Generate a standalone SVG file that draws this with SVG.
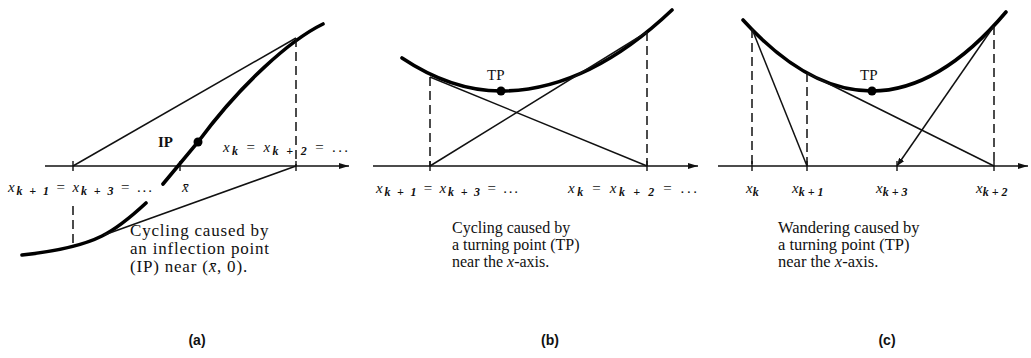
<svg xmlns="http://www.w3.org/2000/svg" width="1031" height="358" viewBox="0 0 1031 358">
<style>
.ax{stroke:#111;stroke-width:1.4;fill:none}
.thin{stroke:#111;stroke-width:1.5;fill:none}
.thick{stroke:#000;stroke-width:3.6;fill:none;stroke-linecap:round}
.dash{stroke:#111;stroke-width:1.5;fill:none;stroke-dasharray:9 5}
.tick{stroke:#111;stroke-width:1.4}
.lab{font-family:"Liberation Serif",serif;font-size:15px;fill:#111}
.it{font-style:italic}
.sub{font-size:12px;font-style:italic;font-weight:bold}
.cap{font-family:"Liberation Serif",serif;fill:#111}
.pl{font-family:"Liberation Sans",sans-serif;font-weight:bold;font-size:14px;fill:#111}
</style>
<defs>
<marker id="arr" viewBox="0 0 10 6" refX="10" refY="3" markerWidth="10" markerHeight="6" markerUnits="userSpaceOnUse" orient="auto">
<path d="M0,0 L10,3 L0,6 Z" fill="#111"/>
</marker>
<marker id="arr2" viewBox="0 0 8 6" refX="8" refY="3" markerWidth="8" markerHeight="6" markerUnits="userSpaceOnUse" orient="auto">
<path d="M0,0 L8,3 L0,6 Z" fill="#111"/>
</marker>
</defs>

<g id="panel-a">
<line class="ax" x1="45" y1="166" x2="349" y2="166" marker-end="url(#arr)"/>
<line class="tick" x1="73" y1="161" x2="73" y2="171"/>
<line class="tick" x1="180" y1="161" x2="180" y2="171"/>
<line class="tick" x1="296" y1="161" x2="296" y2="171"/>
<path class="thick" d="M323,24 C290,40 240,85 198,142 L163,184"/>
<path class="thick" d="M146,203 C132,216 118,228 102,236 C82,246 50,252 22,255"/>
<line class="dash" x1="296" y1="38" x2="296" y2="166"/>
<line class="dash" x1="73" y1="206" x2="73" y2="246"/>
<line class="thin" x1="73" y1="166" x2="296" y2="38"/>
<line class="thin" x1="296" y1="166" x2="104" y2="235"/>
<circle cx="198" cy="142" r="4.5" fill="#000"/>
<text class="lab" x="158" y="147" font-weight="bold" font-size="16">IP</text>
<text class="lab" x="223" y="152" textLength="125"><tspan class="it">x</tspan><tspan class="sub" dy="3">k</tspan><tspan dy="-3"> = </tspan><tspan class="it">x</tspan><tspan class="sub" dy="3">k + 2</tspan><tspan dy="-3"> = ...</tspan></text>
<text class="lab" x="8" y="192" textLength="144"><tspan class="it">x</tspan><tspan class="sub" dy="3">k + 1</tspan><tspan dy="-3"> = </tspan><tspan class="it">x</tspan><tspan class="sub" dy="3">k + 3</tspan><tspan dy="-3"> = ...</tspan></text>
<text class="lab it" x="182" y="192">x̄</text>
<text class="cap" font-size="17" letter-spacing="0.8" x="130" y="236"><tspan x="130">Cycling caused by</tspan><tspan x="130" y="254">an inflection point</tspan><tspan x="130" y="272">(IP) near (<tspan class="it">x̄</tspan>, 0).</tspan></text>
<text class="pl" x="197" y="345" text-anchor="middle">(a)</text>
</g>

<g id="panel-b">
<line class="ax" x1="373" y1="166" x2="698" y2="166" marker-end="url(#arr)"/>
<line class="tick" x1="430" y1="161" x2="430" y2="171"/>
<line class="tick" x1="647" y1="161" x2="647" y2="171"/>
<path class="thick" d="M402,58 Q451.5,91 501,91 Q586.5,91 672,10"/>
<line class="dash" x1="430" y1="77" x2="430" y2="166"/>
<line class="dash" x1="647" y1="32" x2="647" y2="166"/>
<line class="thin" x1="430" y1="77" x2="647" y2="166"/>
<line class="thin" x1="647" y1="32" x2="430" y2="166"/>
<circle cx="501" cy="91" r="4.5" fill="#000"/>
<text class="lab" x="487" y="80" font-size="15">TP</text>
<text class="lab" x="376" y="193" textLength="142"><tspan class="it">x</tspan><tspan class="sub" dy="3">k + 1</tspan><tspan dy="-3"> = </tspan><tspan class="it">x</tspan><tspan class="sub" dy="3">k + 3</tspan><tspan dy="-3"> = ...</tspan></text>
<text class="lab" x="568" y="193" textLength="129"><tspan class="it">x</tspan><tspan class="sub" dy="3">k</tspan><tspan dy="-3"> = </tspan><tspan class="it">x</tspan><tspan class="sub" dy="3">k + 2</tspan><tspan dy="-3"> = ...</tspan></text>
<text class="cap" font-size="16" x="452" y="233"><tspan x="452">Cycling caused by</tspan><tspan x="452" y="250">a turning point (TP)</tspan><tspan x="452" y="267">near the <tspan class="it">x</tspan>-axis.</tspan></text>
<text class="pl" x="550" y="345" text-anchor="middle">(b)</text>
</g>

<g id="panel-c">
<line class="ax" x1="718" y1="166" x2="1028" y2="166" marker-end="url(#arr)"/>
<line class="tick" x1="752" y1="161" x2="752" y2="171"/>
<line class="tick" x1="807" y1="161" x2="807" y2="171"/>
<line class="tick" x1="897" y1="161" x2="897" y2="171"/>
<line class="tick" x1="994" y1="161" x2="994" y2="171"/>
<path class="thick" d="M743,20 Q807.5,91 872,91 Q939,91 1006,12"/>
<line class="dash" x1="752" y1="29" x2="752" y2="166"/>
<line class="dash" x1="807" y1="73" x2="807" y2="166"/>
<line class="dash" x1="994" y1="26" x2="994" y2="166"/>
<line class="thin" x1="752" y1="29" x2="807" y2="166"/>
<line class="thin" x1="807" y1="73" x2="994" y2="166"/>
<line class="thin" x1="994" y1="26" x2="897" y2="166" marker-end="url(#arr2)"/>
<circle cx="872" cy="91" r="4.5" fill="#000"/>
<text class="lab" x="860" y="80" font-size="15">TP</text>
<text class="lab" x="746" y="193"><tspan class="it">x</tspan><tspan class="sub" dy="3">k</tspan></text>
<text class="lab" x="792" y="193"><tspan class="it">x</tspan><tspan class="sub" dy="3">k + 1</tspan></text>
<text class="lab" x="876" y="193"><tspan class="it">x</tspan><tspan class="sub" dy="3">k + 3</tspan></text>
<text class="lab" x="976" y="193"><tspan class="it">x</tspan><tspan class="sub" dy="3">k + 2</tspan></text>
<text class="cap" font-size="16.5" x="778" y="233"><tspan x="778">Wandering caused by</tspan><tspan x="778" y="250">a turning point (TP)</tspan><tspan x="778" y="267">near the <tspan class="it">x</tspan>-axis.</tspan></text>
<text class="pl" x="887" y="345" text-anchor="middle">(c)</text>
</g>
</svg>
